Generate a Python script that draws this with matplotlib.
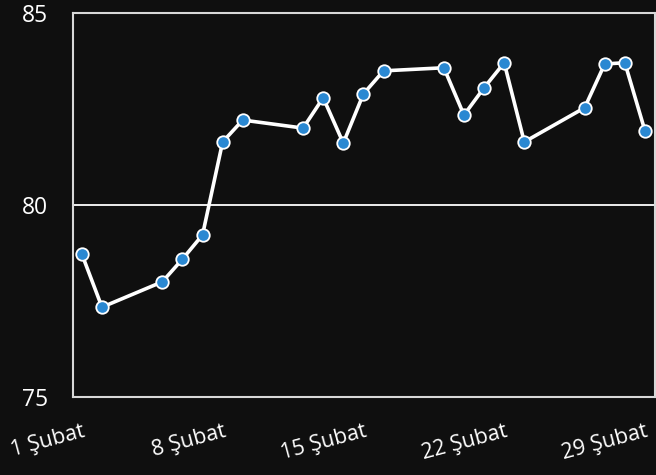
import matplotlib
matplotlib.use("Agg")
import matplotlib.pyplot as plt
import matplotlib.dates as mdates
import numpy as np
from datetime import date

# Şubat 2024 daily readings
days = [1, 2, 5, 6, 7, 8, 9, 12, 13, 14, 15, 16, 19, 20, 21, 22, 23, 26, 27, 28, 29]
values = [78.72, 77.34, 78.0, 78.59, 79.22, 81.64, 82.21, 82.0, 82.79, 81.61, 82.89,
          83.49, 83.57, 82.34, 83.05, 83.70, 81.64, 82.53, 83.67, 83.70, 81.93]
tick_days = [1, 8, 15, 22, 29]
tick_labels = ['1 Şubat', '8 Şubat', '15 Şubat', '22 Şubat', '29 Şubat']
y_ticks = [75, 80, 85]

bg = '#0f0f0f'
dates = [date(2024, 2, d) for d in days]
tick_dates = [date(2024, 2, d) for d in tick_days]

plt.rcParams['font.family'] = ['Open Sans', 'DejaVu Sans']

fig = plt.figure(figsize=(6.56, 4.75), dpi=100, facecolor=bg)
ax = fig.add_axes([0.111, 0.164, 0.8875, 0.809], facecolor=bg)

ax.plot(dates, values, color='white', linewidth=2.6, marker='o', markersize=9,
        markerfacecolor='#2a88d2', markeredgecolor='white', markeredgewidth=1.3,
        zorder=3, clip_on=False)

ax.set_ylim(75, 85)
ax.set_xlim(mdates.date2num(date(2024, 2, 1)) - 0.45, mdates.date2num(date(2024, 2, 29)) + 0.5)

ax.set_yticks(y_ticks)
ax.set_yticklabels([str(v) for v in y_ticks])
ax.set_xticks(tick_dates)
ax.set_xticklabels(tick_labels)

ax.tick_params(axis='y', length=0, pad=18, labelsize=16.5, colors='white')
ax.tick_params(axis='x', length=0, pad=17, labelsize=15.5, colors='white')
for lbl in ax.get_xticklabels():
    lbl.set_rotation(15)
    lbl.set_ha('right')
    lbl.set_rotation_mode('anchor')

ax.grid(axis='y', color='white', linewidth=1.3)
ax.grid(axis='x', visible=False)
for side in ['left', 'bottom', 'right', 'top']:
    ax.spines[side].set_color('#d8d8d8')
    ax.spines[side].set_linewidth(1.5)

fig.savefig('out.png', dpi=100, facecolor=bg)
